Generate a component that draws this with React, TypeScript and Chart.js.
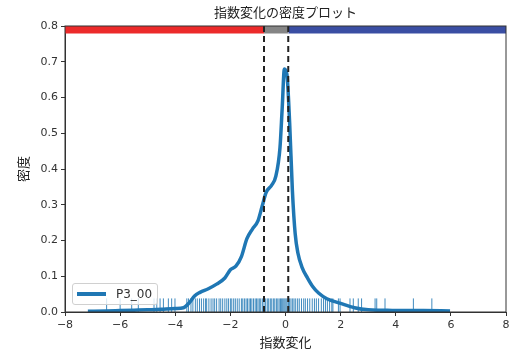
import React, { useEffect, useRef } from "react";
import { Chart, registerables } from "chart.js";

Chart.register(...registerables);

// KDE curve (x, density)
const kdeX = [-7.17, -6.5, -6.0, -5.5, -5.0, -4.5, -4.0, -3.7, -3.5, -3.3, -3.1, -2.8, -2.5, -2.2, -2.0, -1.8, -1.6, -1.4, -1.2, -1.0, -0.85, -0.7, -0.5, -0.35, -0.2, -0.12, -0.04, 0.05, 0.15, 0.25, 0.35, 0.45, 0.6, 0.8, 1.0, 1.2, 1.5, 2.0, 2.5, 3.0, 3.5, 4.0, 5.0, 5.97];
const kdeY = [0.002, 0.003, 0.004, 0.005, 0.006, 0.008, 0.010, 0.012, 0.025, 0.045, 0.055, 0.065, 0.078, 0.095, 0.118, 0.128, 0.155, 0.205, 0.232, 0.255, 0.295, 0.335, 0.355, 0.38, 0.46, 0.57, 0.68, 0.665, 0.53, 0.34, 0.22, 0.165, 0.125, 0.095, 0.07, 0.053, 0.037, 0.024, 0.012, 0.006, 0.005, 0.004, 0.004, 0.003];

// rug observations
const rugX = [-6.49, -6.0, -5.58, -5.34, -4.77, -4.67, -4.55, -4.43, -4.25, -4.13, -4.01, -3.58, -3.52, -3.43, -3.36, -3.27, -3.2, -3.12, -3.05, -2.97, -2.9, -2.86, -2.78, -2.7, -2.63, -2.57, -2.5, -2.41, -2.35, -2.28, -2.2, -2.13, -2.07, -2.0, -1.95, -1.88, -1.82, -1.75, -1.68, -1.6, -1.55, -1.49, -1.43, -1.38, -1.32, -1.27, -1.22, -1.16, -1.1, -1.05, -1.0, -0.95, -0.9, -0.84, -0.78, -0.72, -0.66, -0.61, -0.55, -0.5, -0.44, -0.39, -0.33, -0.28, -0.23, -0.18, -0.14, -0.1, -0.06, -0.02, 0.02, 0.06, 0.11, 0.15, 0.2, 0.26, 0.31, 0.37, 0.44, 0.5, 0.58, 0.66, 0.72, 0.8, 0.88, 0.97, 1.05, 1.12, 1.2, 1.3, 1.38, 1.45, 1.52, 1.6, 1.68, 1.72, 1.92, 1.98, 2.34, 2.46, 2.64, 2.76, 3.25, 3.31, 3.61, 4.64, 5.31];

// thresholds (dashed lines)
const thresholds = [-0.78, 0.1];

// top band segments
const bandEdges = [-8, -0.78, 0.1, 8];
const bandColors = ["#ec2a2a", "#858585", "#3a4ea3"];
const bandTop = 0.8;
const bandBottom = 0.779;
const rugCenter = 0.019;

const xTicks = { min: -8, max: 8, step: 2 };
const yTicks = { min: 0, max: 0.8, step: 0.1 };

const TITLE = "指数変化の密度プロット";
const X_LABEL = "指数変化";
const Y_LABEL = "密度";
const SERIES = "P3_00";

const FONT = "'DejaVu Sans', 'Noto Sans CJK JP', sans-serif";
const CJK = "'Noto Sans CJK JP', 'DejaVu Sans', sans-serif";

const framePlugin = {
  id: "frame",
  afterDraw(chart: any) {
    const { ctx, chartArea } = chart;
    ctx.save();
    ctx.strokeStyle = "#333";
    ctx.lineWidth = 1;
    ctx.strokeRect(chartArea.left, chartArea.top, chartArea.right - chartArea.left, chartArea.bottom - chartArea.top);
    ctx.restore();
  },
};

export default function App() {
  const ref = useRef<HTMLCanvasElement>(null);

  useEffect(() => {
    document.body.style.margin = "0";
    const canvas = ref.current!;
    const datasets: any[] = [];

    thresholds.forEach((t) => {
      datasets.push({
        type: "line",
        data: [{ x: t, y: 0 }, { x: t, y: 0.8 }],
        borderColor: "#222",
        borderWidth: 2,
        borderDash: [6, 4],
        pointRadius: 0,
        order: 0,
        clip: false,
      });
    });

    datasets.push({
      type: "line",
      label: SERIES,
      data: kdeX.map((x, i) => ({ x, y: kdeY[i] })),
      borderColor: "#1f77b4",
      borderWidth: 3.5,
      pointRadius: 0,
      cubicInterpolationMode: "monotone",
      order: 1,
    });

    datasets.push({
      type: "scatter",
      data: rugX.map((x) => ({ x, y: rugCenter })),
      pointStyle: "line",
      rotation: 90,
      radius: 6.8,
      borderWidth: 1,
      borderColor: "rgba(31,119,180,0.85)",
      order: 2,
    });

    for (let i = 0; i < bandColors.length; i++) {
      datasets.push({
        type: "line",
        data: [{ x: bandEdges[i], y: bandTop }, { x: bandEdges[i + 1], y: bandTop }],
        borderWidth: 0,
        borderColor: bandColors[i],
        backgroundColor: bandColors[i],
        fill: { value: bandBottom },
        pointRadius: 0,
        order: 3,
      });
    }

    const chart = new Chart(canvas, {
      type: "line",
      data: { datasets },
      options: {
        animation: false,
        responsive: false,
        events: [],
        layout: { autoPadding: false, padding: { left: 0, right: 3, top: 0, bottom: 0 } },
        plugins: {
          legend: { display: false },
          tooltip: { enabled: false },
          title: { display: false },
        },
        scales: {
          x: {
            type: "linear",
            min: xTicks.min,
            max: xTicks.max,
            afterFit(scale: any) {
              scale.height = 42;
              scale.paddingLeft = 0;
              scale.paddingRight = 0;
            },
            ticks: {
              stepSize: xTicks.step,
              color: "#333",
              font: { family: FONT, size: 11 },
              padding: 3,
              maxRotation: 0,
              callback: (v: any) => (v < 0 ? "\u2212" + Math.abs(v) : String(v)),
            },
            grid: { drawOnChartArea: false, drawTicks: true, tickLength: 4, color: "#333" },
            border: { display: true, color: "#333" },
            title: {
              display: true,
              text: X_LABEL,
              color: "#222",
              font: { family: CJK, size: 13 },
              padding: { top: 2, bottom: 4 },
            },
          },
          xTitle: {
            type: "linear",
            position: "top",
            min: xTicks.min,
            max: xTicks.max,
            afterFit(scale: any) {
              scale.height = 26;
              scale.paddingLeft = 0;
              scale.paddingRight = 0;
            },
            ticks: { display: false },
            grid: { display: false, drawTicks: false },
            border: { display: false },
            title: {
              display: true,
              text: TITLE,
              color: "#222",
              font: { family: CJK, size: 13 },
              padding: { top: 4.5, bottom: 0 },
            },
          },
          y: {
            type: "linear",
            min: yTicks.min,
            max: yTicks.max,
            afterFit(scale: any) {
              scale.width = 65;
            },
            ticks: {
              stepSize: yTicks.step,
              color: "#333",
              font: { family: FONT, size: 11 },
              padding: 3,
              callback: (v: any) => Number(v).toFixed(1),
            },
            grid: { drawOnChartArea: false, drawTicks: true, tickLength: 4, color: "#333" },
            border: { display: true, color: "#333" },
            title: {
              display: true,
              text: Y_LABEL,
              color: "#222",
              font: { family: CJK, size: 13 },
              padding: { top: 15, bottom: 0 },
            },
          },
        },
      } as any,
      plugins: [framePlugin],
    });
    return () => chart.destroy();
  }, []);

  return (
    <div style={{ position: "relative", width: 509, height: 354 }}>
      <canvas ref={ref} width={509} height={354} style={{ display: "block" }} />
      <div
        style={{
          position: "absolute",
          left: 72,
          top: 283,
          width: 86,
          height: 22,
          boxSizing: "border-box",
          border: "1px solid #d0d0d0",
          borderRadius: 3,
          background: "rgba(255,255,255,0.8)",
          display: "flex",
          alignItems: "center",
          fontFamily: FONT,
          fontSize: 12,
          color: "#333",
        }}
      >
        <span style={{ display: "inline-block", width: 29, height: 3.5, background: "#1f77b4", marginLeft: 4, marginRight: 10 }} />
        <span>{SERIES}</span>
      </div>
    </div>
  );
}
